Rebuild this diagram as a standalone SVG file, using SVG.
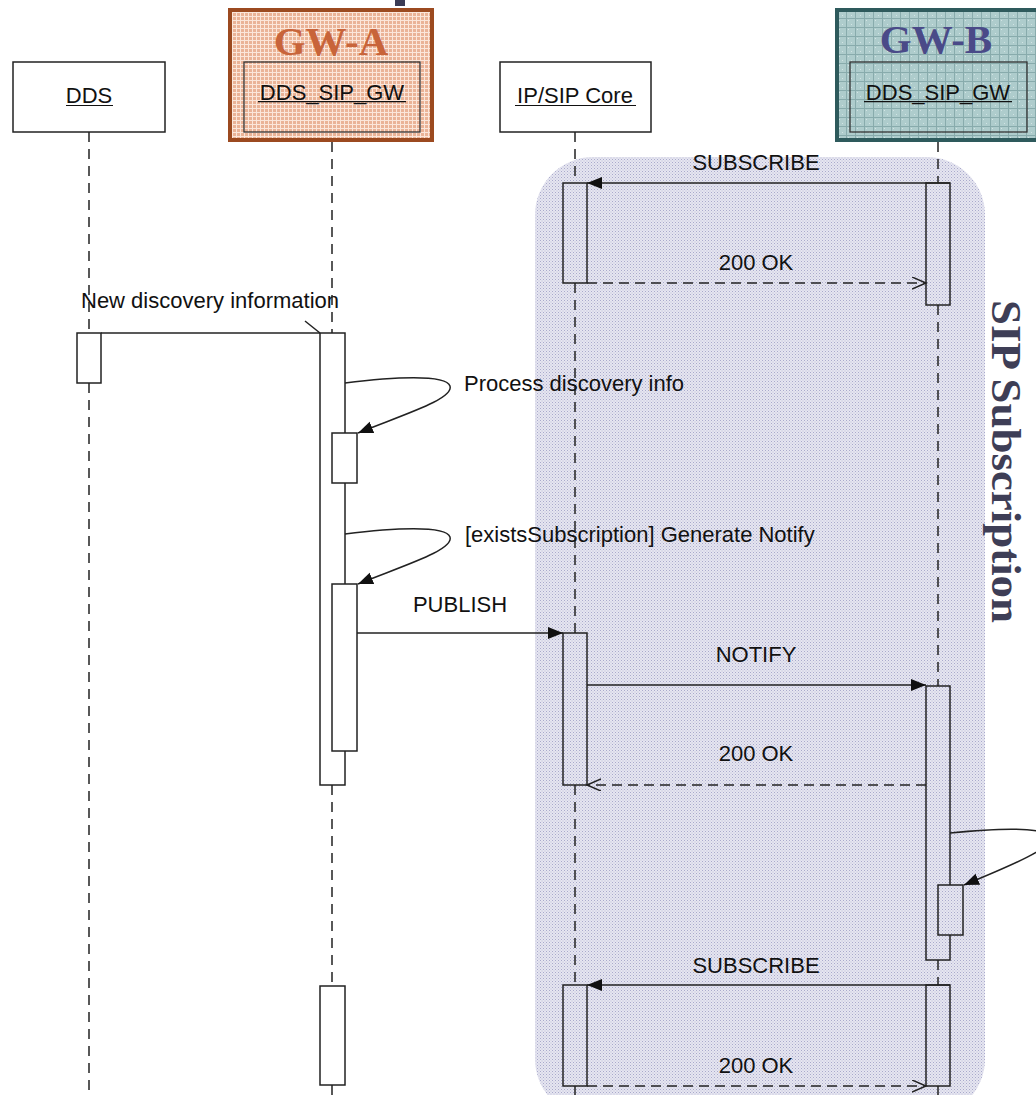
<svg xmlns="http://www.w3.org/2000/svg" width="1036" height="1095" viewBox="0 0 1036 1095">
<style>
.lbl{font-family:"Liberation Sans",Arial,sans-serif;font-size:22px;fill:#111}
.box{fill:#fff;stroke:#222;stroke-width:1.5}
.inner{fill:none;stroke:#333;stroke-width:1.3}
.ul{stroke:#111;stroke-width:1.2}
.life{stroke:#222;stroke-width:1.5;stroke-dasharray:10 7;fill:none}
.act{fill:#fff;stroke:#222;stroke-width:1.5}
.actS{fill:url(#shade);stroke:#222;stroke-width:1.5}
.msg{stroke:#222;stroke-width:1.5;fill:none}
.ret{stroke:#222;stroke-width:1.5;fill:none;stroke-dasharray:10 6}
.title{font-family:"Liberation Serif","Times New Roman",serif;font-weight:bold;font-size:41px;text-anchor:middle}
</style>
<defs>
<pattern id="shade" patternUnits="userSpaceOnUse" width="3" height="3">
<rect width="3" height="3" fill="#e6e6f0"/>
<rect width="1" height="1" fill="#a9a9cc"/>
<rect x="1.5" y="1.5" width="1" height="1" fill="#bcbcd8"/>
</pattern>
<pattern id="peach" patternUnits="userSpaceOnUse" width="4" height="4">
<rect width="4" height="4" fill="#eab397"/>
<rect width="4" height="1" fill="#fbe6da"/>
<rect width="1" height="4" fill="#fbe6da"/>
</pattern>
<pattern id="teal" patternUnits="userSpaceOnUse" width="9" height="9">
<rect width="9" height="9" fill="#aecccc"/>
<rect x="2" y="2" width="1" height="1" fill="#d2e4e4"/>
<rect x="5" y="6" width="1" height="1" fill="#d2e4e4"/>
<rect width="9" height="1" fill="#88abac"/>
<rect width="1" height="9" fill="#88abac"/>
</pattern>
<marker id="fill" markerUnits="userSpaceOnUse" markerWidth="18" markerHeight="14" refX="15" refY="6" orient="auto">
<path d="M0,0 L15,6 L0,12 z" fill="#111"/>
</marker>
<marker id="open" markerUnits="userSpaceOnUse" markerWidth="16" markerHeight="14" refX="14" refY="6" orient="auto">
<path d="M0,0 L14,6 L0,12" fill="none" stroke="#222" stroke-width="1.5"/>
</marker>
</defs>

<rect width="1036" height="1095" fill="#fff"/>

<g id="sip-subscription-region">
<rect x="535" y="157" width="450" height="960" rx="58" ry="58" fill="url(#shade)"/>
<text transform="translate(992,300) rotate(90)" font-family="'Liberation Serif','Times New Roman',serif" font-weight="bold" font-size="43" fill="#3e3e56" textLength="323" lengthAdjust="spacingAndGlyphs">SIP Subscription</text>
</g>

<rect x="395" y="0" width="10" height="6" fill="#3b3b55"/>

<g id="lifelines">
<path class="life" d="M89,132 V333 M89,383 V1095"/>
<path class="life" d="M332,142 V333 M332,785 V986 M332,1085 V1095"/>
<line x1="332" y1="132" x2="332" y2="142" stroke="#222" stroke-width="1.5"/>
<path class="life" d="M575,132 V183 M575,283 V633 M575,785 V985 M575,1085 V1095"/>
<path class="life" d="M938,142 V183 M938,305 V686 M938,960 V985 M938,1085 V1095"/>
<line x1="938" y1="132" x2="938" y2="142" stroke="#222" stroke-width="1.5"/>
</g>

<g id="node-dds">
<rect class="box" x="13" y="62" width="152" height="70"/>
<text class="lbl" x="89" y="103" text-anchor="middle">DDS</text>
<line class="ul" x1="66" y1="105.5" x2="113" y2="105.5"/>
</g>

<g id="node-gw-a">
<rect x="230" y="10" width="202" height="130" fill="url(#peach)" stroke="#9c4a20" stroke-width="4"/>
<text class="title" x="331" y="55" fill="#c8643a">GW-A</text>
<rect class="inner" x="244" y="62" width="176" height="70"/>
<text class="lbl" x="332" y="100" text-anchor="middle">DDS_SIP_GW</text>
<line class="ul" x1="258" y1="101.6" x2="406" y2="101.6"/>
</g>

<g id="node-ip-sip-core">
<rect class="box" x="500" y="62" width="151" height="70"/>
<text class="lbl" x="575" y="103" text-anchor="middle">IP/SIP Core</text>
<line class="ul" x1="515" y1="105.5" x2="636" y2="105.5"/>
</g>

<g id="node-gw-b">
<rect x="837" y="10" width="210" height="130" fill="url(#teal)" stroke="#2e5a5c" stroke-width="4"/>
<text class="title" x="936" y="53" fill="#4a4a88">GW-B</text>
<rect class="inner" x="850" y="62" width="177" height="70"/>
<text class="lbl" x="938" y="100" text-anchor="middle" fill="#3a4848">DDS_SIP_GW</text>
<line class="ul" x1="864" y1="101.6" x2="1012" y2="101.6" stroke="#3a4848"/>
</g>

<g id="activations">
<rect class="act" x="77" y="333" width="24" height="50"/>
<rect class="act" x="320" y="333" width="25" height="452"/>
<rect class="act" x="332" y="433" width="25" height="50"/>
<rect class="act" x="332" y="584" width="25" height="167"/>
<rect class="act" x="320" y="986" width="25" height="99"/>
<rect class="actS" x="563" y="183" width="24" height="100"/>
<rect class="actS" x="563" y="633" width="24" height="152"/>
<rect class="actS" x="563" y="985" width="24" height="101"/>
<rect class="actS" x="926" y="183" width="24" height="122"/>
<rect class="actS" x="926" y="686" width="24" height="274"/>
<rect class="actS" x="938" y="885" width="25" height="50"/>
<rect class="actS" x="926" y="985" width="24" height="101"/>
</g>

<g id="connectors">
<line class="msg" x1="950" y1="183" x2="587" y2="183" marker-end="url(#fill)"/>
<text class="lbl" x="756" y="170" text-anchor="middle">SUBSCRIBE</text>
<line class="ret" x1="587" y1="283" x2="926" y2="283" marker-end="url(#open)"/>
<text class="lbl" x="756" y="270" text-anchor="middle">200 OK</text>

<line class="msg" x1="101" y1="333" x2="320" y2="333"/>
<line class="msg" x1="305" y1="321" x2="320" y2="333"/>
<text class="lbl" x="210" y="308" text-anchor="middle">New discovery information</text>

<path class="msg" d="M345,383 C392,377 446,374 450,386 C454,399 405,414 358,433" marker-end="url(#fill)"/>
<text class="lbl" x="464" y="391">Process discovery info</text>

<path class="msg" d="M345,534 C392,528 446,525 450,537 C454,550 405,565 358,584" marker-end="url(#fill)"/>
<text class="lbl" x="465" y="542">[existsSubscription] Generate Notify</text>

<line class="msg" x1="357" y1="633" x2="563" y2="633" marker-end="url(#fill)"/>
<text class="lbl" x="460" y="612" text-anchor="middle">PUBLISH</text>

<line class="msg" x1="587" y1="685" x2="926" y2="685" marker-end="url(#fill)"/>
<text class="lbl" x="756" y="662" text-anchor="middle">NOTIFY</text>

<line class="ret" x1="926" y1="785" x2="587" y2="785" marker-end="url(#open)"/>
<text class="lbl" x="756" y="761" text-anchor="middle">200 OK</text>

<path class="msg" d="M950,833 C990,829 1040,826 1050,836 C1058,846 1010,866 964,885" marker-end="url(#fill)"/>

<line class="msg" x1="950" y1="985" x2="587" y2="985" marker-end="url(#fill)"/>
<text class="lbl" x="756" y="973" text-anchor="middle">SUBSCRIBE</text>
<line class="ret" x1="587" y1="1086" x2="926" y2="1086" marker-end="url(#open)"/>
<text class="lbl" x="756" y="1073" text-anchor="middle">200 OK</text>
</g>
</svg>
